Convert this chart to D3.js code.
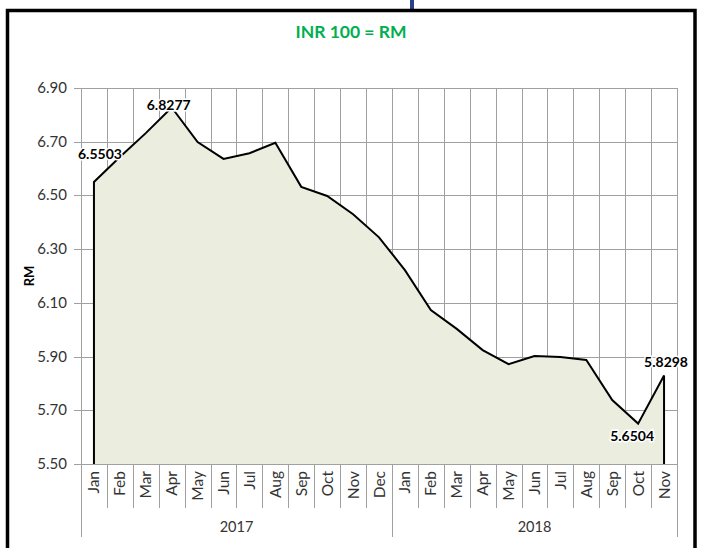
<!DOCTYPE html>
<html>
<head>
<meta charset="utf-8">
<script src="https://cdn.jsdelivr.net/npm/d3@7"></script>
<style>
  body { margin: 0; background: #fff; }
  text { font-family: Lato, "Open Sans", sans-serif; }
</style>
</head>
<body>
<script>
// data
var months = ["Jan","Feb","Mar","Apr","May","Jun","Jul","Aug","Sep","Oct","Nov","Dec",
              "Jan","Feb","Mar","Apr","May","Jun","Jul","Aug","Sep","Oct","Nov"]
var years = ["2017", "2018"]
var yearCounts = [12, 11]
var rates = [6.5503, 6.643, 6.732, 6.8277, 6.699, 6.636, 6.657, 6.696, 6.532, 6.498, 6.430, 6.344,
             6.222, 6.073, 6.003, 5.924, 5.872, 5.902, 5.898, 5.887, 5.738, 5.6504, 5.8298]
var yTicks = [5.50, 5.70, 5.90, 6.10, 6.30, 6.50, 6.70, 6.90]
var labelled = [0, 3, 21, 22]

var width = 705, height = 548
var plot = {left: 81, right: 677, top: 88, bottom: 464}

var svg = d3.select("body").append("svg")
    .attr("width", width)
    .attr("height", height)

// outer frame
svg.append("rect")
    .attr("x", 410).attr("y", 0)
    .attr("width", 4).attr("height", 12)
    .attr("fill", "#2b3f8f")
svg.append("path")
    .attr("d", "M7.5,548 V10.5 H695 V548")
    .attr("fill", "none")
    .attr("stroke", "#000")
    .attr("stroke-width", 3.5)

svg.append("text")
    .attr("x", 351).attr("y", 38)
    .attr("text-anchor", "middle")
    .attr("font-size", 17.5)
    .attr("font-weight", "bold")
    .attr("fill", "#00b050")
    .text("INR 100 = RM")

var x = d3.scaleBand()
    .domain(d3.range(months.length))
    .range([plot.left, plot.right])
var y = d3.scaleLinear()
    .domain([5.5, 6.9])
    .range([plot.bottom, plot.top])
var cx = function(i) { return x(i) + x.bandwidth() / 2 }

// grid
var grid = svg.append("g").attr("stroke", "#a0a0a0").attr("stroke-width", 1)
grid.selectAll("line.h")
    .data(yTicks).enter().append("line")
    .attr("class", "h")
    .attr("x1", plot.left - 7).attr("x2", plot.right)
    .attr("y1", function(d) { return Math.round(y(d)) + 0.5 })
    .attr("y2", function(d) { return Math.round(y(d)) + 0.5 })
grid.selectAll("line.v")
    .data(d3.range(months.length + 1)).enter().append("line")
    .attr("class", "v")
    .attr("x1", function(i) { return Math.round(plot.left + i * x.bandwidth()) + 0.5 })
    .attr("x2", function(i) { return Math.round(plot.left + i * x.bandwidth()) + 0.5 })
    .attr("y1", plot.top)
    .attr("y2", function(i) {
      // year boundaries run down past the month row
      return (i == 0 || i == 12 || i == months.length) ? 537 : 508
    })

// area + line
var area = d3.area()
    .x(function(d, i) { return cx(i) })
    .y0(y(5.5))
    .y1(function(d) { return y(d) })
svg.append("path")
    .datum(rates)
    .attr("d", area)
    .attr("fill", "#ebeedf")
svg.append("path")
    .datum([5.5].concat(rates).concat([5.5]))
    .attr("d", d3.line()
      .x(function(d, i) { return cx(Math.min(Math.max(i - 1, 0), rates.length - 1)) })
      .y(function(d) { return y(d) }))
    .attr("fill", "none")
    .attr("stroke", "#000")
    .attr("stroke-width", 2)

// y axis
svg.append("line")
    .attr("x1", plot.left + 0.5).attr("x2", plot.left + 0.5)
    .attr("y1", plot.top).attr("y2", plot.bottom)
    .attr("stroke", "#a0a0a0")
svg.selectAll("text.ytick")
    .data(yTicks).enter().append("text")
    .attr("class", "ytick")
    .attr("x", 67)
    .attr("y", function(d) { return y(d) + 5 })
    .attr("text-anchor", "end")
    .attr("font-size", 15)
    .attr("fill", "#333")
    .text(function(d) { return d3.format(".2f")(d) })
svg.append("text")
    .attr("transform", "translate(34,276) rotate(-90)")
    .attr("text-anchor", "middle")
    .attr("font-size", 13)
    .attr("font-weight", "bold")
    .text("RM")

// month labels
svg.selectAll("text.month")
    .data(months).enter().append("text")
    .attr("class", "month")
    .attr("transform", function(d, i) { return "translate(" + (cx(i) + 5.5) + ",471) rotate(-90)" })
    .attr("text-anchor", "end")
    .attr("font-size", 15.5)
    .attr("fill", "#333")
    .text(function(d) { return d })

// year labels
var start = 0
years.forEach(function(yr, k) {
  var a = plot.left + start * x.bandwidth()
  var b = plot.left + (start + yearCounts[k]) * x.bandwidth()
  svg.append("text")
      .attr("x", (a + b) / 2).attr("y", 532)
      .attr("text-anchor", "middle")
      .attr("font-size", 14.5)
      .attr("fill", "#333")
      .text(yr)
  start += yearCounts[k]
})

// value labels
var offs = {0: [6, -23], 3: [-3, 3], 21: [-6, 17], 22: [2, -8]}
svg.selectAll("text.val")
    .data(labelled).enter().append("text")
    .attr("class", "val")
    .attr("x", function(i) { return cx(i) + offs[i][0] })
    .attr("y", function(i) { return y(rates[i]) + offs[i][1] })
    .attr("text-anchor", "middle")
    .attr("font-size", 14)
    .attr("font-weight", "bold")
    .attr("fill", "#000")
    .attr("stroke", "#fff")
    .attr("stroke-width", 3)
    .attr("paint-order", "stroke")
    .text(function(i) { return rates[i].toFixed(4) })
</script>
</body>
</html>
